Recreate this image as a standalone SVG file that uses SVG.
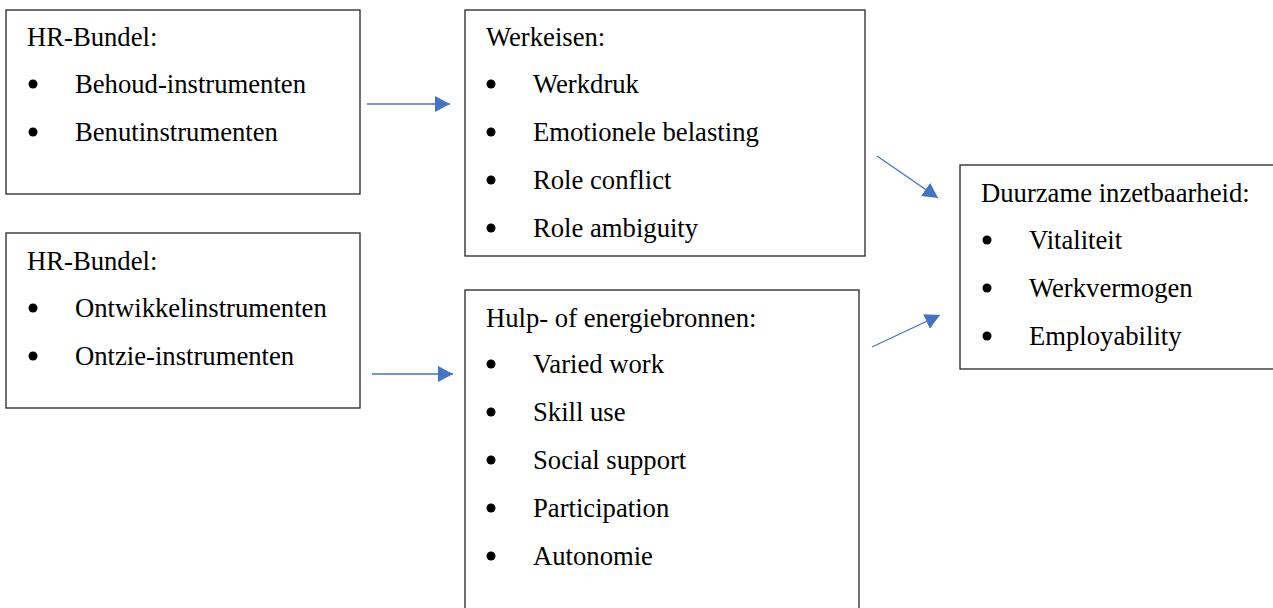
<svg xmlns="http://www.w3.org/2000/svg" width="1273" height="608" viewBox="0 0 1273 608">
<style>
.box{fill:#fff;stroke:#262626;stroke-width:1.3}
.t{font-family:"Liberation Serif","Times New Roman",serif;font-size:26.67px;fill:#000}
.b{fill:#000}
.c{stroke:#4472C4;stroke-width:1.3;fill:none}
</style>
<defs>
<marker id="ah" viewBox="0 0 15 16" refX="15" refY="8" markerWidth="15" markerHeight="16" markerUnits="userSpaceOnUse" orient="auto">
<path d="M0,0 L15,8 L0,16 Z" fill="#4472C4"/>
</marker>
</defs>
<rect width="1273" height="608" fill="#fff"/>
<g id="hr1">
<rect class="box" x="6" y="10" width="354" height="184"/>
<text class="t" x="27" y="46">HR-Bundel:</text>
<circle class="b" cx="33" cy="84" r="4.5"/>
<text class="t" x="75" y="93">Behoud-instrumenten</text>
<circle class="b" cx="33" cy="132" r="4.5"/>
<text class="t" x="75" y="141">Benutinstrumenten</text>
</g>
<g id="hr2">
<rect class="box" x="6" y="233" width="354" height="175"/>
<text class="t" x="27" y="270">HR-Bundel:</text>
<circle class="b" cx="33" cy="308" r="4.5"/>
<text class="t" x="75" y="317">Ontwikkelinstrumenten</text>
<circle class="b" cx="33" cy="356" r="4.5"/>
<text class="t" x="75" y="365">Ontzie-instrumenten</text>
</g>
<g id="werkeisen">
<rect class="box" x="465" y="10" width="400" height="246"/>
<text class="t" x="486" y="46">Werkeisen:</text>
<circle class="b" cx="491" cy="84" r="4.5"/>
<text class="t" x="533" y="93">Werkdruk</text>
<circle class="b" cx="491" cy="132" r="4.5"/>
<text class="t" x="533" y="141">Emotionele belasting</text>
<circle class="b" cx="491" cy="180" r="4.5"/>
<text class="t" x="533" y="189">Role conflict</text>
<circle class="b" cx="491" cy="228" r="4.5"/>
<text class="t" x="533" y="237">Role ambiguity</text>
</g>
<g id="hulp">
<rect class="box" x="465" y="290" width="394" height="330"/>
<text class="t" x="486" y="327">Hulp- of energiebronnen:</text>
<circle class="b" cx="491" cy="364" r="4.5"/>
<text class="t" x="533" y="373">Varied work</text>
<circle class="b" cx="491" cy="412" r="4.5"/>
<text class="t" x="533" y="421">Skill use</text>
<circle class="b" cx="491" cy="460" r="4.5"/>
<text class="t" x="533" y="469">Social support</text>
<circle class="b" cx="491" cy="508" r="4.5"/>
<text class="t" x="533" y="517">Participation</text>
<circle class="b" cx="491" cy="556" r="4.5"/>
<text class="t" x="533" y="565">Autonomie</text>
</g>
<g id="duurzaam">
<rect class="box" x="960" y="165" width="330" height="204"/>
<text class="t" x="981" y="202">Duurzame inzetbaarheid:</text>
<circle class="b" cx="987" cy="240" r="4.5"/>
<text class="t" x="1029" y="249">Vitaliteit</text>
<circle class="b" cx="987" cy="288" r="4.5"/>
<text class="t" x="1029" y="297">Werkvermogen</text>
<circle class="b" cx="987" cy="336" r="4.5"/>
<text class="t" x="1029" y="345">Employability</text>
</g>
<g id="connectors">
<line class="c" x1="367" y1="104" x2="450" y2="104" marker-end="url(#ah)"/>
<line class="c" x1="372" y1="374" x2="453" y2="374" marker-end="url(#ah)"/>
<line class="c" x1="877" y1="156" x2="938" y2="198" marker-end="url(#ah)"/>
<line class="c" x1="872" y1="347" x2="940" y2="315" marker-end="url(#ah)"/>
</g>
</svg>
